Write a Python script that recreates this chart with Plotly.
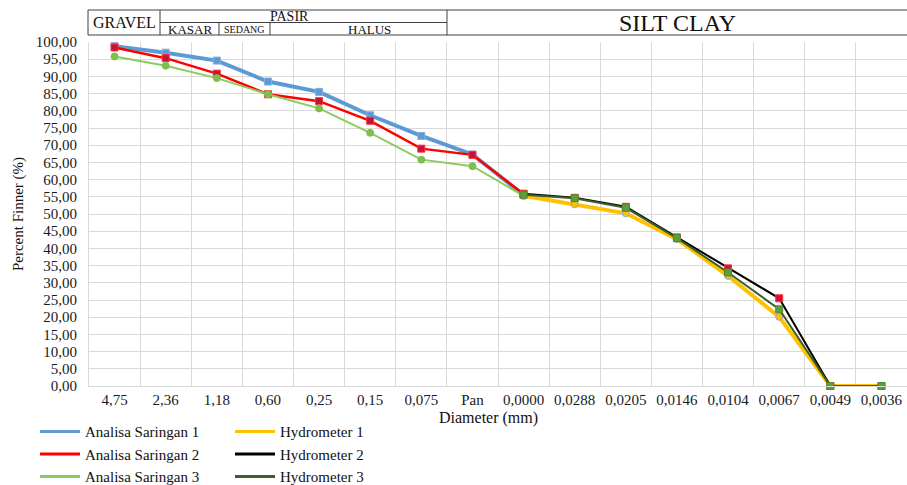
import plotly.graph_objects as go

categories = ["4,75", "2,36", "1,18", "0,60", "0,25", "0,15", "0,075", "Pan",
              "0,0000", "0,0288", "0,0205", "0,0146", "0,0104", "0,0067", "0,0049", "0,0036"]

analisa_1 = [98.8, 96.9, 94.6, 88.5, 85.5, 78.7, 72.7, 67.3, 55.5] + [None] * 7
analisa_2 = [98.4, 95.3, 90.8, 84.8, 82.8, 77.1, 69.0, 67.2, 55.8] + [None] * 7
analisa_3 = [95.8, 93.1, 89.5, 84.8, 80.7, 73.6, 65.8, 63.9, 55.3] + [None] * 7
hydro_1 = [None] * 8 + [55.3, 52.8, 50.2, 42.7, 32.0, 20.1, 0.0, 0.0]
hydro_2 = [None] * 8 + [55.9, 54.7, 52.1, 43.2, 34.2, 25.5, 0.0, 0.0]
hydro_3 = [None] * 8 + [55.6, 54.6, 51.8, 43.0, 33.0, 22.3, 0.0, 0.0]

y_ticks = list(range(0, 101, 5))

FONT = "Liberation Serif"
TXT = "#1A1A1A"

series = [
    # name, values, line color, width, marker symbol, marker fill, marker line, legend
    ("Analisa Saringan 1", analisa_1, "#5B9BD5", 4, "square", "#5B9BD5", "#8FAADC", "legend"),
    ("Analisa Saringan 2", analisa_2, "#FF0000", 2.5, "square", "#C0143C", "#FF3030", "legend"),
    ("Analisa Saringan 3", analisa_3, "#8CCB5E", 2, "circle", "#7DC04E", "#7DC04E", "legend"),
    ("Hydrometer 1", hydro_1, "#FFC000", 4, "circle", "#FFC000", "#8FAADC", "legend2"),
    ("Hydrometer 2", hydro_2, "#000000", 2, "square", "#D0103A", "#FF3030", "legend2"),
    ("Hydrometer 3", hydro_3, "#3A5F27", 2, "square", "#5E9E3A", "#4E8A30", "legend2"),
]

fig = go.Figure()
for name, vals, col, w, sym, fill, mline, lg in series:
    fig.add_trace(go.Scatter(
        x=categories, y=vals, mode="lines+markers", name=name,
        line=dict(color=col, width=w),
        marker=dict(symbol=sym, size=7, color=fill, line=dict(color=mline, width=1)),
        showlegend=False, cliponaxis=False, connectgaps=False,
    ))

# legend-only entries (lines only)
for name, vals, col, w, sym, fill, mline, lg in series:
    fig.add_trace(go.Scatter(
        x=[None], y=[None], mode="lines", name=name,
        line=dict(color=col, width=3),
        showlegend=True, legend=lg,
    ))

# header table (soil classification)
def px_x(p):
    return (p - 89) / 818.0

def px_y(p):
    return (386 - p) / 344.0

line_style = dict(color="#404040", width=1)
shapes = []
top, mid, bot = px_y(10), px_y(22.5), px_y(35)
shapes.append(dict(type="line", xref="paper", yref="paper", x0=px_x(88), x1=1.0, y0=top, y1=top, line=line_style))
shapes.append(dict(type="line", xref="paper", yref="paper", x0=px_x(88), x1=1.0, y0=bot, y1=bot, line=line_style))
shapes.append(dict(type="line", xref="paper", yref="paper", x0=px_x(160), x1=px_x(447), y0=mid, y1=mid, line=line_style))
for xv, y0 in [(88, bot), (160, bot), (447, bot)]:
    shapes.append(dict(type="line", xref="paper", yref="paper", x0=px_x(xv), x1=px_x(xv), y0=y0, y1=top, line=line_style))
for xv in [219, 270]:
    shapes.append(dict(type="line", xref="paper", yref="paper", x0=px_x(xv), x1=px_x(xv), y0=bot, y1=mid, line=line_style))

annotations = [
    dict(text="GRAVEL", x=px_x(124), y=px_y(23), size=16),
    dict(text="PASIR", x=px_x(289), y=px_y(16.5), size=14),
    dict(text="KASAR", x=px_x(190), y=px_y(29.5), size=13),
    dict(text="SEDANG", x=px_x(244.5), y=px_y(29.5), size=10),
    dict(text="HALUS", x=px_x(369), y=px_y(29.5), size=13),
    dict(text="SILT CLAY", x=px_x(677), y=px_y(23), size=24),
    dict(text="Diameter (mm)", x=px_x(488), y=px_y(418), size=16),
]
ann = []
for a in annotations:
    ann.append(dict(text=a["text"], x=a["x"], y=a["y"], xref="paper", yref="paper",
                    showarrow=False, xanchor="center", yanchor="middle",
                    font=dict(family=FONT, size=a["size"], color="#111111")))

legend_common = dict(orientation="v", yanchor="top", xanchor="left",
                     xref="paper", yref="paper",
                     font=dict(family=FONT, size=15, color="#111111"),
                     itemwidth=40, tracegroupgap=0, bgcolor="rgba(0,0,0,0)")

fig.update_layout(
    width=907, height=485,
    margin=dict(l=89, r=0, t=42, b=99, autoexpand=False),
    paper_bgcolor="white", plot_bgcolor="white",
    separators=",.",
    font=dict(family=FONT, size=15, color=TXT),
    shapes=shapes, annotations=ann,
    legend=dict(x=px_x(35), y=-0.085, **legend_common),
    legend2=dict(x=px_x(230), y=-0.085, **legend_common),
    xaxis=dict(
        type="category", categoryorder="array", categoryarray=categories,
        range=[-0.5, 15.5], tickson="boundaries",
        showgrid=True, gridcolor="#D9D9D9", gridwidth=1,
        showline=True, linecolor="#D9D9D9", ticks="",
        tickfont=dict(family=FONT, size=15, color=TXT),
        fixedrange=True,
    ),
    yaxis=dict(
        range=[0, 100], tickvals=y_ticks, tickformat=".2f",
        showgrid=True, gridcolor="#D9D9D9", gridwidth=1,
        showline=True, linecolor="#D9D9D9", zeroline=False,
        ticks="", ticklabelstandoff=8,
        tickfont=dict(family=FONT, size=15, color=TXT),
        title=dict(text="Percent Finner (%)", font=dict(family=FONT, size=15, color="#111111"), standoff=8),
        fixedrange=True,
    ),
)

fig.write_html("out.html", config={"displayModeBar": False},
               post_script="document.body.style.margin='0px';")
